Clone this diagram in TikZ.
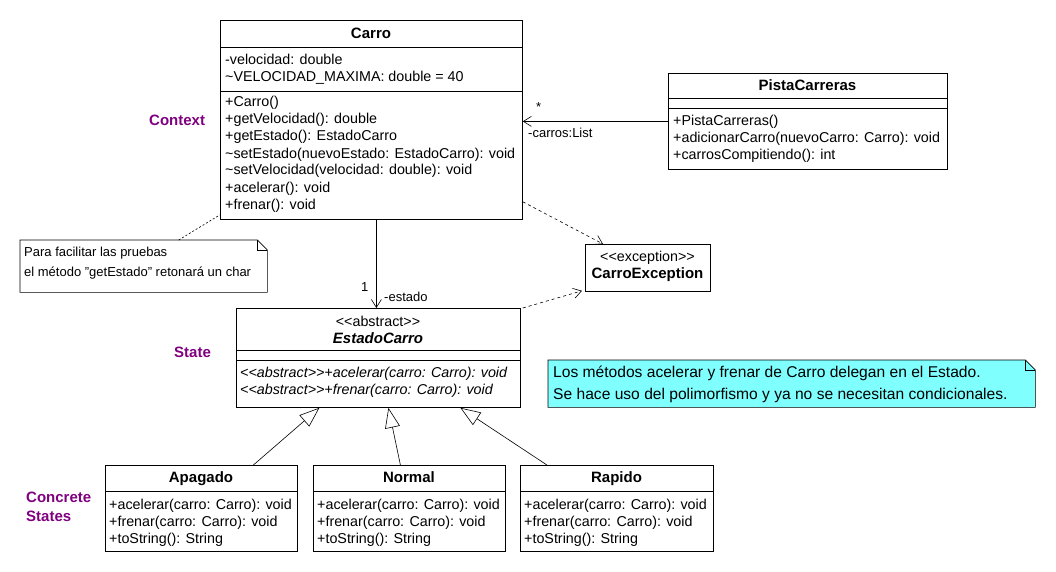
\documentclass[tikz,border=0pt]{standalone}
\usepackage{fontspec}
\setmainfont{Liberation Sans}
\usetikzlibrary{arrows.meta,calc}
\definecolor{etiqueta}{HTML}{800080}
\definecolor{notacyan}{HTML}{80FFFF}

\begin{document}
\begin{tikzpicture}[x=1pt,y=-1pt,
    caja/.style={draw, line width=0.8pt, inner sep=0pt, anchor=north west},
    linea/.style={anchor=base west, inner sep=0pt, font=\fontsize{14.3}{16}\selectfont},
    titulo/.style={anchor=base, inner sep=0pt, font=\bfseries\fontsize{15}{17}\selectfont},
    rotulo/.style={anchor=base west, inner sep=0pt, text=etiqueta, font=\bfseries\fontsize{15}{17}\selectfont},
    chico/.style={anchor=base west, inner sep=0pt, font=\fontsize{13}{15}\selectfont},
    herencia/.style={line width=0.6pt, -{Triangle[open, length=20pt, width=15pt]}},
    navega/.style={line width=0.6pt, -{Straight Barb[length=8pt, width=10pt]}},
    depende/.style={line width=0.6pt, dash pattern=on 3pt off 3pt, -{Straight Barb[length=8pt, width=10pt]}}]

    \useasboundingbox (0,0) rectangle (1056,572);

    % Carro
    \node[caja, minimum width=302pt, minimum height=199pt] (carro) at (220,20) {};
    \draw[line width=0.8pt] (220,47) -- (522,47) (220,91) -- (522,91);
    \node[titulo] (carroT) at (371,38.5) {Carro};
    \node[linea] (carroA1) at (225,65) {-velocidad: double};
    \node[linea] (carroA2) at (225,82) {\textasciitilde VELOCIDAD\_MAXIMA: double = 40};
    \foreach \m [count=\i] in {{+Carro()}, {+getVelocidad(): double}, {+getEstado(): EstadoCarro},
        {\textasciitilde setEstado(nuevoEstado: EstadoCarro): void},
        {\textasciitilde setVelocidad(velocidad: double): void}, {+acelerar(): void}, {+frenar(): void}}
        \node[linea] (carroM\i) at (225,{90+17*\i}) {\m};

    % PistaCarreras
    \node[caja, minimum width=279pt, minimum height=96pt] (pista) at (668,73) {};
    \draw[line width=0.8pt] (668,98) -- (947,98) (668,108) -- (947,108);
    \node[titulo] (pistaT) at (807.5,90.5) {PistaCarreras};
    \foreach \m [count=\i] in {{+PistaCarreras()}, {+adicionarCarro(nuevoCarro: Carro): void},
        {+carrosCompitiendo(): int}}
        \node[linea] (pistaM\i) at (673,{109+17*\i}) {\m};

    % CarroException
    \node[caja, minimum width=125pt, minimum height=47pt] (exc) at (585,244) {};
    \node[anchor=base, inner sep=0pt, font=\fontsize{14.3}{16}\selectfont] (excS) at (647.5,261) {<{}<exception>{}>};
    \node[titulo] (excT) at (647.5,278.5) {CarroException};

    % EstadoCarro
    \node[caja, minimum width=284pt, minimum height=99pt] (estado) at (236,308) {};
    \draw[line width=0.8pt] (236,350) -- (520,350) (236,360) -- (520,360);
    \node[anchor=base, inner sep=0pt, font=\fontsize{14.3}{16}\selectfont] (estadoS) at (378,326) {<{}<abstract>{}>};
    \node[titulo, font=\bfseries\itshape\fontsize{15}{17}\selectfont] (estadoT) at (378,343.5) {EstadoCarro};
    \node[linea, font=\itshape\fontsize{14.3}{16}\selectfont] (estadoM1) at (240,377) {<{}<abstract>{}>+acelerar(carro: Carro): void};
    \node[linea, font=\itshape\fontsize{14.3}{16}\selectfont] (estadoM2) at (240,394) {<{}<abstract>{}>+frenar(carro: Carro): void};

    % estados concretos
    \foreach \nombre/\x/\w in {Apagado/105/192, Normal/313/192, Rapido/520/193} {
        \node[caja, minimum width=\w pt, minimum height=86pt] (\nombre) at (\x,465) {};
        \draw[line width=0.8pt] (\x,491) -- ({\x+\w},491);
        \node[titulo] (\nombre T) at ({\x+\w/2},482.5) {\nombre};
        \foreach \m [count=\i] in {{+acelerar(carro: Carro): void}, {+frenar(carro: Carro): void},
            {+toString(): String}}
            \node[linea] (\nombre M\i) at ({\x+4},{492+17*\i}) {\m};
    }

    % notas
    \node[inner sep=0pt, anchor=north west, minimum width=247pt, minimum height=52pt] (nota1) at (20,240) {};
    \draw[line width=0.6pt, fill=white] (nota1.north west) -- ($(nota1.north east)+(-10,0)$) -- ($(nota1.north east)+(0,10)$)
        -- (nota1.south east) -- (nota1.south west) -- cycle;
    \draw[line width=0.6pt] ($(nota1.north east)+(-10,0)$) |- ($(nota1.north east)+(0,10)$);
    \node[chico] (nota1a) at (24,256) {Para facilitar las pruebas};
    \node[chico] (nota1b) at (24,276) {el método \symbol{34}getEstado\symbol{34} retonará un char};

    \node[inner sep=0pt, anchor=north west, minimum width=487pt, minimum height=47pt] (nota2) at (548,360) {};
    \draw[line width=0.6pt, fill=notacyan] (nota2.north west) -- ($(nota2.north east)+(-10,0)$) -- ($(nota2.north east)+(0,10)$)
        -- (nota2.south east) -- (nota2.south west) -- cycle;
    \draw[line width=0.6pt] ($(nota2.north east)+(-10,0)$) |- ($(nota2.north east)+(0,10)$);
    \node[linea, font=\fontsize{15.6}{18}\selectfont] (nota2a) at (553,377.5) {Los métodos acelerar y frenar de Carro delegan en el Estado.};
    \node[linea, font=\fontsize{15.6}{18}\selectfont] (nota2b) at (553,399) {Se hace uso del polimorfismo y ya no se necesitan condicionales.};

    % rotulos del patron
    \node[rotulo] (ctx) at (149,125.5) {Context};
    \node[rotulo] (st) at (174,357.5) {State};
    \node[rotulo] (cs1) at (26,502.5) {Concrete};
    \node[rotulo] (cs2) at (26,521.5) {States};

    % relaciones
    \draw[navega] (pista.west) -- (pista.west -| carro.east);
    \node[chico] (mult1) at (536,112) {*};
    \node[chico] (rol1) at (528,137.5) {-carros:List};
    \draw[navega] ($(carro.south)+(5,0)$) -- ($(estado.north)+(-2,0)$);
    \node[chico] (mult2) at (361,291.5) {1};
    \node[chico] (rol2) at (384,301.5) {-estado};
    \draw[depende] ($(carro.south east)+(0,-18)$) -- ($(exc.north west)+(18,0)$);
    \draw[depende] ($(estado.north east)+(2,0)$) -- ($(exc.south west)+(-3,-1)$);
    \draw[line width=0.6pt, dash pattern=on 2pt off 2pt] ($(nota1.north)+(35,0)$) -- ($(carro.south west)+(0,-5)$);
    \draw[herencia] ($(Apagado.north)+(52,0)$) -- ($(estado.south)+(-59,0)$);
    \draw[herencia] ($(Normal.north)+(-9,0)$) -- ($(estado.south)+(10,0)$);
    \draw[herencia] ($(Rapido.north)+(-70,0)$) -- ($(estado.south)+(82,0)$);
\end{tikzpicture}
\end{document}
